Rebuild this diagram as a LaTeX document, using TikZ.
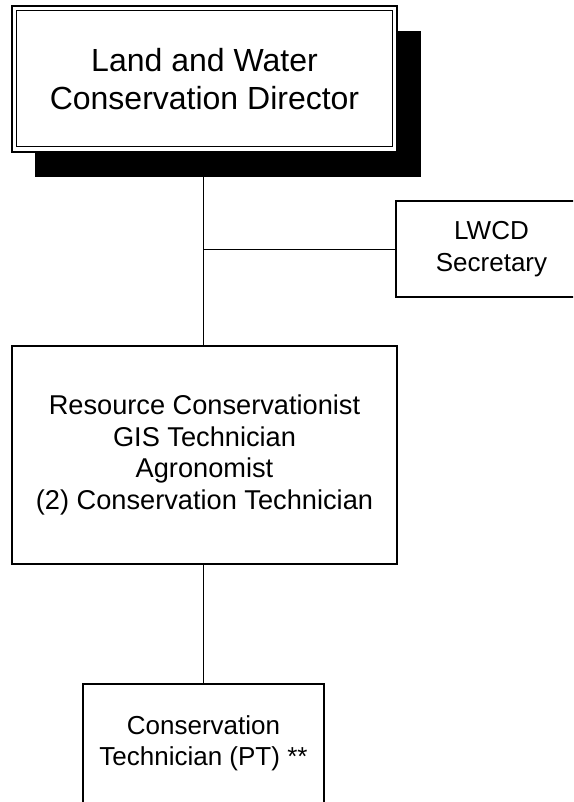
\documentclass[tikz,border=0pt]{standalone}
\usepackage{fontspec}
\setmainfont{Liberation Sans}
\begin{document}
\begin{tikzpicture}[x=1pt,y=1pt,
  box/.style={draw, line width=1.1pt, inner sep=0pt, align=center,
    font=\fontsize{26}{31.5}\selectfont},
  link/.style={line width=0.9pt}]
\useasboundingbox (0,0) rectangle (573,-802);
\clip (0,0) rectangle (573,-802);
% director with shadow and double frame
\node[fill=black, inner sep=0pt, minimum width=386, minimum height=146] (shadow) at (228,-104) {};
\node[draw, fill=white, line width=1.5pt, inner sep=0pt, minimum width=385, minimum height=146] (dirout) at (204.5,-79) {};
\node[draw, line width=1pt, inner sep=0pt, minimum width=376, minimum height=136, align=center,
  font=\fontsize{32}{38}\selectfont] (dir) at (204.5,-79) {Land and Water\\Conservation Director};
% other boxes
\node[box, minimum width=191, minimum height=96] (sec) at (491.5,-249) {LWCD\\Secretary};
\node[box, minimum width=385, minimum height=218, font=\fontsize{27.2}{31.5}\selectfont] (staff) at (204.5,-455)
  {Resource Conservationist\\GIS Technician\\Agronomist\\(2) Conservation Technician};
\node[box, minimum width=241, minimum height=119] (tech) at (203.5,-743.5)
  {Conservation\\Technician (PT) **};
% connectors
\coordinate (j) at (tech.north |- sec.west);
\draw[link] (tech.north |- shadow.south) -- (tech.north |- staff.north);
\draw[link] (j) -- (sec.west);
\draw[link] (tech.north |- staff.south) -- (tech.north);
\end{tikzpicture}
\end{document}
